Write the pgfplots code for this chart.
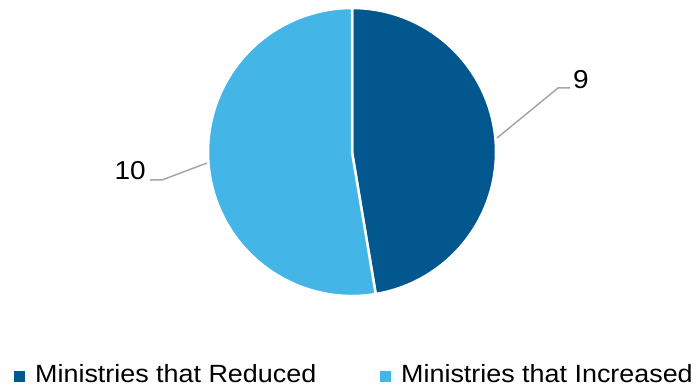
\documentclass[border=0pt]{standalone}
\usepackage{pgfplots}
\usepackage{pgfplotstable}
\pgfplotsset{compat=1.18}
\usepackage{fontspec}
\setmainfont{Liberation Sans}[FakeStretch=1.08]
\definecolor{darkblue}{HTML}{02578E}
\definecolor{lightblue}{HTML}{43B5E6}
\definecolor{leader}{HTML}{A6A6A6}
\pgfplotstableread{
label value
Reduced 9
Increased 10
}\piedata
\begin{document}
\begin{tikzpicture}
\pgfplotstablegetelem{0}{value}\of\piedata \let\va\pgfplotsretval
\pgfplotstablegetelem{1}{value}\of\piedata \let\vb\pgfplotsretval
\pgfmathsetmacro{\tot}{\va+\vb}
\pgfmathsetmacro{\angA}{90-360*\va/\tot}
\pgfmathsetmacro{\angB}{\angA-360*\vb/\tot}
\begin{axis}[
  width=699bp, height=387bp, scale only axis,
  xmin=0, xmax=699, ymin=0, ymax=387,
  hide axis, clip=false,
]
\path[use as bounding box] (axis cs:0,0) rectangle (axis cs:699,387);
\fill[darkblue, draw=white, line width=2.5bp] (axis cs:352,235) -- ++(90:144bp) arc[start angle=90, end angle=\angA, radius=144bp] -- cycle;
\fill[lightblue, draw=white, line width=2.5bp] (axis cs:352,235) -- ++(\angA:144bp) arc[start angle=\angA, end angle=\angB, radius=144bp] -- cycle;
\draw[leader, line width=1.5bp] (axis cs:497,249) -- (axis cs:558,299) -- (axis cs:570,299);
\draw[leader, line width=1.5bp] (axis cs:207,224) -- (axis cs:162,207) -- (axis cs:150,207);
\node[anchor=base west, inner sep=0, font=\fontsize{26}{30}\selectfont] at (axis cs:573,298) {\va};
\node[anchor=base east, inner sep=0, font=\fontsize{26}{30}\selectfont] at (axis cs:146,207) {\vb};
\fill[darkblue] (axis cs:14,5) rectangle (axis cs:25,16);
\node[anchor=base west, inner sep=0, font=\fontsize{25}{30}\selectfont] at (axis cs:35,5) {Ministries that Reduced};
\fill[lightblue] (axis cs:380,5) rectangle (axis cs:391,16);
\node[anchor=base west, inner sep=0, font=\fontsize{25}{30}\selectfont] at (axis cs:401,5) {Ministries that Increased};
\end{axis}
\end{tikzpicture}
\end{document}
